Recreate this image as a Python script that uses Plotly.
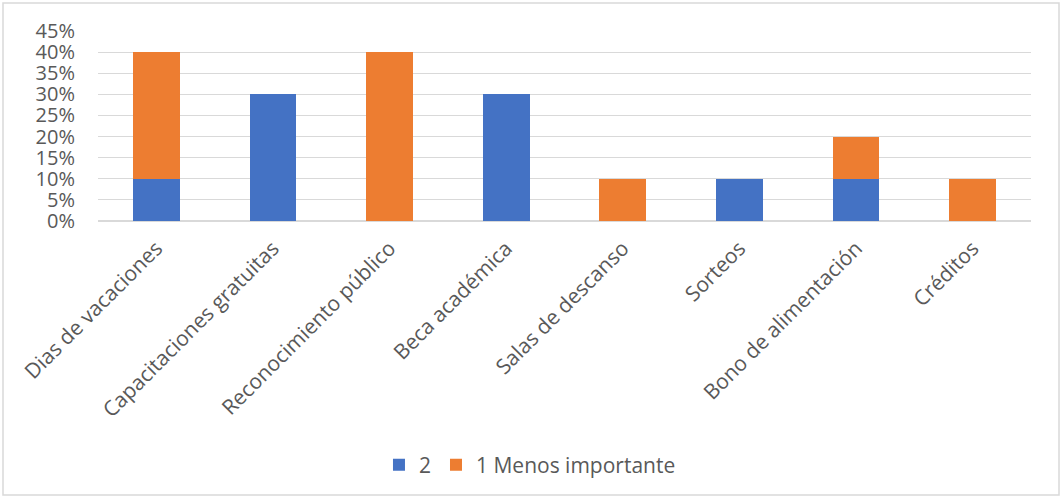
import plotly.graph_objects as go

categories = ["Dias de vacaciones", "Capacitaciones gratuitas", "Reconocimiento público",
              "Beca académica", "Salas de descanso", "Sorteos", "Bono de alimentación", "Créditos"]
serie_2 = [0.10, 0.30, 0.0, 0.30, 0.0, 0.10, 0.10, 0.0]
serie_1 = [0.30, 0.0, 0.40, 0.0, 0.10, 0.0, 0.10, 0.10]
y_ticks = [0, 0.05, 0.10, 0.15, 0.20, 0.25, 0.30, 0.35, 0.40, 0.45]

W, H = 1062, 503
L, R, T, B = 98, 31, 31, 282

fig = go.Figure()
fig.add_trace(go.Bar(x=categories, y=serie_2, name="2", marker=dict(color="#4472C4", line=dict(width=0))))
fig.add_trace(go.Bar(x=categories, y=serie_1, name="1 Menos importante", marker=dict(color="#ED7D31", line=dict(width=0))))

pw = W - L - R
ph = H - T - B
fig.update_layout(
    barmode="stack",
    bargap=0.6,
    width=W, height=H,
    margin=dict(l=L, r=R, t=T, b=B, autoexpand=False),
    plot_bgcolor="white", paper_bgcolor="white",
    font=dict(family="Open Sans, sans-serif", size=20, color="#595959"),
    xaxis=dict(tickangle=-45, showgrid=False, showline=False, ticks="", tickfont=dict(size=21),
               ticklabelstandoff=10, automargin=False),
    yaxis=dict(range=[0, 0.45], tickvals=y_ticks, tickformat=".0%", showgrid=True,
               gridcolor="#D9D9D9", gridwidth=1, zeroline=True, zerolinecolor="#D9D9D9",
               ticks="", ticklabelstandoff=22, tickfont=dict(size=20), automargin=False),
    legend=dict(orientation="h", x=0.463, xanchor="center", y=-(465 - (T + ph)) / ph, yanchor="middle",
                font=dict(size=21), traceorder="normal", itemwidth=30),
    showlegend=True,
    shapes=[dict(type="rect", xref="paper", yref="paper",
                 x0=(3 - L) / pw, x1=(1059 - L) / pw,
                 y0=1 - (495 - T) / ph, y1=1 - (3 - T) / ph,
                 line=dict(color="#D9D9D9", width=1.5), fillcolor="rgba(0,0,0,0)", layer="below")],
)
fig.write_html("out.html")
